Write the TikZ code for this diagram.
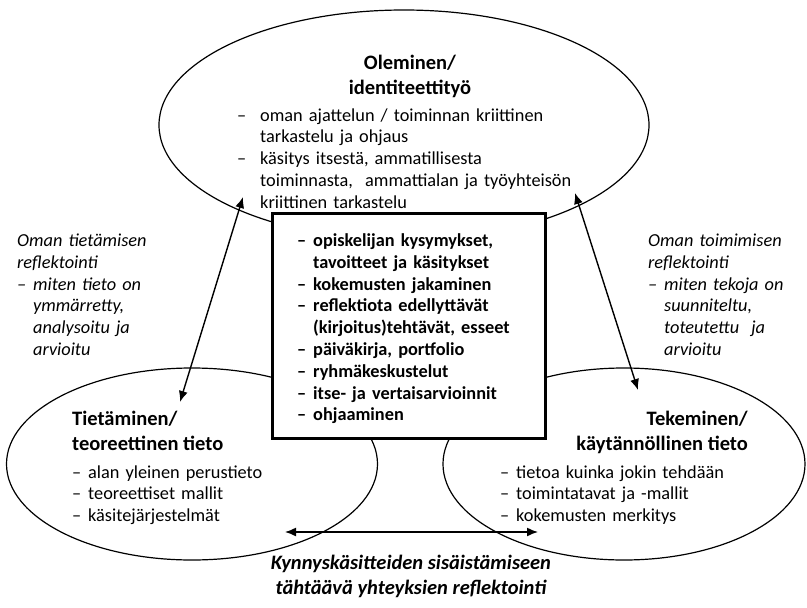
\documentclass[tikz,border=0pt]{standalone}
\usepackage{fontspec}
\setmainfont{Carlito}
\usetikzlibrary{shapes.geometric,arrows.meta}

% font sizes used in the figure
\newcommand\bodysize{\fontsize{18.3}{21.8}\selectfont}
\newcommand\titlesize{\fontsize{20.5}{25.5}\selectfont}
% list item with a hanging dash
\newcommand\litem[1][16pt]{\par\hangindent=#1\hangafter=1\noindent\makebox[#1][l]{\strut–}\ignorespaces}

\tikzset{
  area/.style={ellipse, draw, line width=1.2pt, inner sep=0pt},
  twoway/.style={{Latex[length=11pt,width=9pt]}-{Latex[length=11pt,width=9pt]}, line width=1.4pt},
  methods/.style={draw, line width=3pt, fill=white, inner sep=0pt},
  txt/.style={inner sep=0pt, font=\bodysize, align=left, text width=#1},
  txt/.default=360pt,
  title/.style={inner sep=0pt, font=\titlesize\bfseries},
}

\begin{document}
\begin{tikzpicture}[x=1pt,y=-1pt]
  \useasboundingbox (0,0) rectangle (807,608);

  % the three areas of knowing
  \node[area, minimum width=490pt, minimum height=230pt] (being) at (404,125) {};
  \node[area, minimum width=371pt, minimum height=192pt] (knowing) at (192,464) {};
  \node[area, minimum width=362pt, minimum height=192pt] (doing) at (624,464) {};

  % reflection connectors
  \coordinate (lA) at (243,197);
  \coordinate (lB) at (180,402);
  \coordinate (rA) at (575,193);
  \coordinate (rB) at (638,390);
  \coordinate (bA) at (285,532);
  \coordinate (bB) at (538,532);
  \draw[twoway] (lA) -- (lB);
  \draw[twoway] (rA) -- (rB);
  \draw[twoway] (bA) -- (bB);

  % central box with the methods
  \node[methods, minimum width=273pt, minimum height=225pt] (box) at (408.5,325.5) {};
  \node[txt=245pt, anchor=north west, font=\bodysize\bfseries] (boxtext) at (297,224.5) {%
    \litem opiskelijan kysymykset,\newline tavoitteet ja käsitykset
    \litem kokemusten jakaminen
    \litem reflektiota edellyttävät\newline (kirjoitus)tehtävät, esseet
    \litem päiväkirja, portfolio
    \litem ryhmäkeskustelut
    \litem itse- ja vertaisarvioinnit
    \litem ohjaaminen\par};

  % being / identity
  \node[title, anchor=north, align=center] (beingtitle) at (410,51) {\strut Oleminen/\\ identiteettityö};
  \node[txt, anchor=north west] (beinglist) at (237,99) {%
    \litem[23pt] oman ajattelun / toiminnan kriittinen\newline tarkastelu ja ohjaus
    \litem[23pt] käsitys itsestä, ammatillisesta\newline toiminnasta,\ \ ammattialan ja työyhteisön\newline kriittinen tarkastelu\par};

  % knowing / theoretical knowledge
  \node[title, anchor=north west, align=left] (knowtitle) at (72,407) {\strut Tietäminen/\\ teoreettinen tieto};
  \node[txt, anchor=north west] (knowlist) at (72,456) {%
    \litem alan yleinen perustieto
    \litem teoreettiset mallit
    \litem käsitejärjestelmät\par};

  % doing / practical knowledge
  \node[title, anchor=north east, align=right] (dotitle) at (748,407) {\strut Tekeminen/\\ käytännöllinen tieto};
  \node[txt, anchor=north west] (dolist) at (500,456) {%
    \litem tietoa kuinka jokin tehdään
    \litem toimintatavat ja -mallit
    \litem kokemusten merkitys\par};

  % reflection labels
  \node[txt=200pt, anchor=north west, font=\bodysize\itshape] (leftlabel) at (17,231) {%
    \strut Oman tietämisen\\ reflektointi
    \litem miten tieto on\newline ymmärretty,\newline analysoitu ja\newline arvioitu\par};
  \node[txt=160pt, anchor=north west, font=\bodysize\itshape] (rightlabel) at (648,231) {%
    \strut Oman toimimisen\\ reflektointi
    \litem miten tekoja on\newline suunniteltu,\newline toteutettu\ \ ja\newline arvioitu\par};
  \node[title, anchor=north, align=center, font=\titlesize\bfseries\itshape] (bottomlabel) at (411,551) {%
    \strut Kynnyskäsitteiden sisäistämiseen\\ tähtäävä yhteyksien reflektointi};
\end{tikzpicture}
\end{document}
